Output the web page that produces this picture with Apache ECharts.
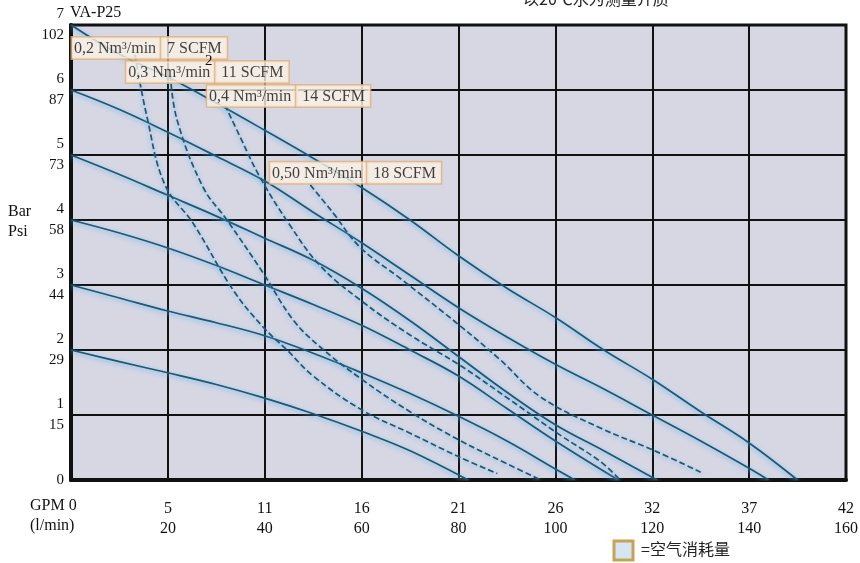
<!DOCTYPE html>
<html><head><meta charset="utf-8">
<script src="https://cdn.jsdelivr.net/npm/echarts@6/dist/echarts.min.js"></script>
<style>html,body{margin:0;padding:0;background:#fff}#c{width:860px;height:563px}</style>
</head><body><div id="c"></div>
<script>
// ---- data ----
const flowTicksLpm = [0, 20, 40, 60, 80, 100, 120, 140, 160];
const gpmLabels = ['0', '5', '11', '16', '21', '26', '32', '37', '42'];
const barTicks = [0, 1, 2, 3, 4, 5, 6, 7];
const psiLabels = ['', '15', '29', '44', '58', '73', '87', '102'];

// inlet air pressure curves [l/min, bar]
const p7bar = [[0,7.0],[10,6.55],[20,6.2],[30,5.8],[40,5.38],[50,4.95],[60,4.5],[70,4.0],[80,3.45],[90,2.95],[100,2.5],[110,2.0],[120,1.55],[130,1.05],[140,0.57],[150,0]];
const p6bar = [[0,6.0],[10,5.7],[20,5.35],[30,4.98],[40,4.6],[50,4.12],[60,3.65],[70,3.15],[80,2.65],[90,2.2],[100,1.78],[110,1.4],[120,1.0],[130,0.6],[140,0.18],[144,0]];
const p5bar = [[0,5.0],[10,4.7],[20,4.38],[30,4.06],[40,3.72],[50,3.38],[60,2.95],[70,2.45],[80,1.9],[90,1.35],[100,0.85],[110,0.45],[121,0]];
const p4bar = [[0,4.0],[10,3.8],[20,3.57],[30,3.3],[40,3.0],[50,2.7],[60,2.38],[70,2.0],[80,1.6],[90,1.1],[100,0.6],[113,0]];
const p3bar = [[0,3.0],[10,2.8],[20,2.6],[30,2.42],[40,2.22],[50,1.95],[60,1.65],[70,1.33],[80,0.98],[90,0.6],[100,0.17],[104,0]];
const p2bar = [[0,2.0],[10,1.82],[20,1.65],[30,1.47],[40,1.26],[50,1.02],[60,0.75],[70,0.45],[82,0]];

// air consumption curves [l/min, bar]
const air02 = [[13.2,6.54],[15.7,5.58],[19.4,4.54],[25.2,3.95],[33.5,2.92],[39.7,2.35],[44.6,2.0],[50,1.6],[60,1.08],[70,0.72],[80,0.36],[88,0.1]];
const air03 = [[20.5,6.23],[21.9,5.54],[27.3,4.5],[32.2,4.0],[39.7,3.18],[45.9,2.46],[51.4,2.05],[60,1.55],[70,1.05],[80,0.62],[90,0.25],[97,0]];
const air04 = [[31.8,5.77],[34.9,5.28],[39,4.66],[45.2,3.92],[51.4,3.3],[59.7,2.77],[70,2.23],[80.2,1.77],[90.7,1.23],[101,0.69],[109,0.3],[113,0.03]];
const air05 = [[49.4,4.54],[54.1,4.11],[59.7,3.58],[68,3.1],[80.2,2.38],[88.6,1.85],[96.9,1.28],[109.3,0.8],[120.2,0.46],[130,0.12]];

// annotation boxes: [l/min, bar, Nm3 text, SCFM text]
const airLabels = [
  [0.2, 6.8, '0,2 Nm³/min', '7 SCFM'],
  [11.4, 6.43, '0,3 Nm³/min', '11 SCFM'],
  [28.1, 6.06, '0,4 Nm³/min', '14 SCFM'],
  [41.1, 4.88, '0,50 Nm³/min', '18 SCFM']
];

const serif = '"Liberation Serif","DejaVu Serif",serif';
const cjk = '"Noto Sans CJK SC",sans-serif';
const lineColor = '#1b5873';
const glow = 'rgba(100,180,235,1)';

function curve(name, data, dashed) {
  return {
    name, type: 'line', data, smooth: 0.4, symbol: 'none',
    lineStyle: { color: lineColor, width: 1.7, type: dashed ? [6, 3] : 'solid',
      shadowColor: glow, shadowBlur: 5, shadowOffsetY: 1.5 },
    z: 3
  };
}

const boxStyle = { fontFamily: serif, fontSize: 16, color: '#111', backgroundColor: '#fbf3e6',
  borderColor: '#e0b07c', borderWidth: 1.5, padding: [3, 5, 2, 2], lineHeight: 16 };

const chart = echarts.init(document.getElementById('c'));
chart.setOption({
  animation: false,
  backgroundColor: '#ffffff',
  grid: { left: 71, right: 14, top: 25, bottom: 83, show: true, backgroundColor: '#d7d7e4',
    borderColor: '#111', borderWidth: 3, outerBoundsMode: 'none', containLabel: false },
  xAxis: {
    type: 'value', min: 0, max: 160, interval: 20,
    axisLine: { show: true, lineStyle: { color: '#111', width: 4 } },
    axisTick: { show: false },
    splitLine: { show: true, lineStyle: { color: '#111', width: 2 } },
    axisLabel: {
      margin: 19, showMaxLabel: true, showMinLabel: true,
      formatter: v => { const i = flowTicksLpm.indexOf(v); if (i <= 0) return ''; return '{g|' + gpmLabels[i] + '}\n{l|' + v + '}'; },
      rich: { g: { fontFamily: serif, fontSize: 16, color: '#111', lineHeight: 20 },
              l: { fontFamily: serif, fontSize: 16, color: '#111', lineHeight: 20 } }
    }
  },
  yAxis: {
    type: 'value', min: 0, max: 7, interval: 1,
    axisLine: { show: true, lineStyle: { color: '#111', width: 4 } },
    axisTick: { show: false },
    splitLine: { show: true, lineStyle: { color: '#111', width: 2 } },
    axisLabel: {
      margin: 7,
      formatter: v => { const i = barTicks.indexOf(v); if (i === 0) return '{b|0}'; return '{b|' + v + '}\n{p|' + psiLabels[i] + '}'; },
      rich: { b: { fontFamily: serif, fontSize: 15, color: '#111', lineHeight: 21, align: 'right' },
              p: { fontFamily: serif, fontSize: 15, color: '#111', lineHeight: 21, align: 'right' } }
    }
  },
  series: [
    curve('7 bar', p7bar), curve('6 bar', p6bar), curve('5 bar', p5bar),
    curve('4 bar', p4bar), curve('3 bar', p3bar), curve('2 bar', p2bar),
    curve('0,2', air02, true), curve('0,3', air03, true), curve('0,4', air04, true), curve('0,50', air05, true),
    {
      type: 'scatter', symbolSize: 0, z: 10,
      data: airLabels.map(a => ({ value: [a[0], a[1]], nm: a[2], sc: a[3] })),
      label: {
        show: true, position: [0, 2], align: 'left', verticalAlign: 'top',
        formatter: p => '{a|' + p.data.nm + '}{s|' + p.data.sc + '}',
        rich: { a: Object.assign({}, boxStyle), s: Object.assign({}, boxStyle, { padding: [3, 5, 2, 6] }) }
      }
    }
  ],
  graphic: [
    { type: 'text', left: 70, top: 5, z: 20, style: { text: 'VA-P25', font: '16px ' + serif, fill: '#111' } },
    { type: 'text', left: 205, top: 54, z: 20, style: { text: '2', font: '15px ' + serif, fill: '#111' } },
    { type: 'text', left: 523, top: -9, z: 20, style: { text: '以20℃水为测量介质', font: '16px ' + cjk, fill: '#222' } },
    { type: 'text', left: 8, top: 204, style: { text: 'Bar', font: '16px ' + serif, fill: '#111' } },
    { type: 'text', left: 8, top: 224, style: { text: 'Psi', font: '16px ' + serif, fill: '#111' } },
    { type: 'text', left: 30, top: 498, style: { text: 'GPM 0', font: '16px ' + serif, fill: '#111' } },
    { type: 'text', left: 30, top: 518, style: { text: '(l/min)', font: '16px ' + serif, fill: '#111' } },
    { type: 'rect', shape: { x: 614, y: 541, width: 19, height: 19 }, style: { fill: '#d3e6f2', stroke: '#c9a257', lineWidth: 3 } },
    { type: 'text', left: 641, top: 541, style: { text: '=空气消耗量', font: '16px ' + cjk, fill: '#222' } }
  ]
});
</script></body></html>
